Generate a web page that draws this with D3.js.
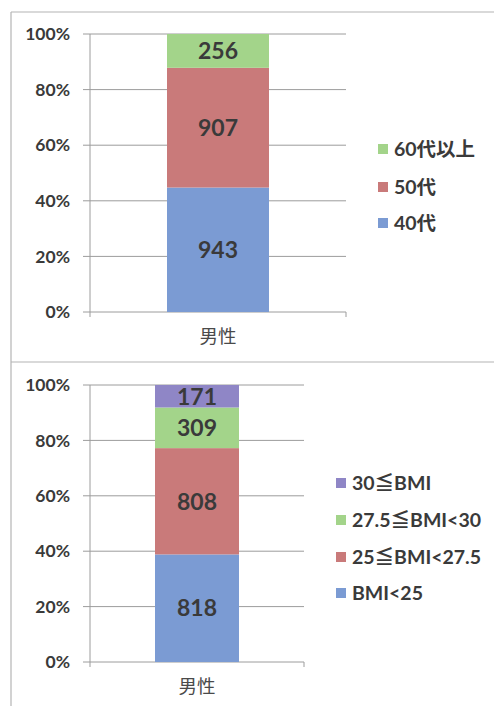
<!DOCTYPE html>
<html>
<head>
<meta charset="utf-8">
<script src="https://cdn.jsdelivr.net/npm/d3@7"></script>
<style>
  html, body { margin: 0; padding: 0; background: #fff; }
  svg { display: block; }
</style>
</head>
<body>
<svg id="chart" width="494" height="706"></svg>
<script>
// Men by age group and by BMI band, shown as 100% stacked bars
const categories = ["男性"];
const ageSeries = ["40代", "50代", "60代以上"];
const ageValues = [943, 907, 256];
const bmiSeries = ["BMI<25", "25≦BMI<27.5", "27.5≦BMI<30", "30≦BMI"];
const bmiValues = [818, 808, 309, 171];
const tickValues = [0, 0.2, 0.4, 0.6, 0.8, 1.0];
const tickLabels = ["0%", "20%", "40%", "60%", "80%", "100%"];
const ageColors = ["#7b9bd3", "#c97a7a", "#a3d48a"];
const bmiColors = ["#7b9bd3", "#c97a7a", "#a3d48a", "#8f86c6"];

const FONT = "Lato, 'Noto Sans CJK JP', sans-serif";
const TEXT = "#3a3a3a";
const GRID = "#9c9c9c";

const svg = d3.select("#chart");

// panel frames
const frame = svg.append("g").attr("stroke", "#b4b4b4").attr("stroke-width", 1.2).attr("fill", "none");
frame.append("line").attr("x1", 11).attr("x2", 494).attr("y1", 12).attr("y2", 12);
frame.append("line").attr("x1", 11).attr("x2", 11).attr("y1", 12).attr("y2", 706);
frame.append("line").attr("x1", 11).attr("x2", 494).attr("y1", 362).attr("y2", 362);

function drawPanel(opts) {
  const { series, values, colors, left, right, top, bottom, pad, legendX, legendRows } = opts;
  const g = svg.append("g");

  const row = { cat: categories[0] };
  series.forEach((s, i) => row[s] = values[i]);
  const stacked = d3.stack().keys(series).offset(d3.stackOffsetExpand)([row]);

  const x = d3.scaleBand().domain(categories).range([left, right]).paddingInner(0).paddingOuter(pad);
  const y = d3.scaleLinear().domain([0, 1]).range([bottom, top]);

  // horizontal gridlines with left tick stubs
  g.append("g").selectAll("line").data(tickValues).join("line")
    .attr("x1", left - 7).attr("x2", right)
    .attr("y1", d => y(d)).attr("y2", d => y(d))
    .attr("stroke", GRID).attr("stroke-width", 1);

  // value axis line
  g.append("line").attr("x1", left).attr("x2", left).attr("y1", top).attr("y2", bottom + 5)
    .attr("stroke", GRID).attr("stroke-width", 1);
  // category axis end tick
  g.append("line").attr("x1", right).attr("x2", right).attr("y1", bottom).attr("y2", bottom + 5)
    .attr("stroke", GRID).attr("stroke-width", 1);

  // tick labels
  g.append("g").selectAll("text").data(tickValues).join("text")
    .attr("x", left - 20).attr("y", d => y(d))
    .attr("dy", "0.35em").attr("text-anchor", "end")
    .attr("font-family", FONT).attr("font-weight", "bold").attr("font-size", 17.5)
    .attr("fill", TEXT)
    .text((d, i) => tickLabels[i]);

  // stacked segments
  const segs = g.append("g").selectAll("g").data(stacked).join("g")
    .attr("fill", (d, i) => colors[i]);
  segs.selectAll("rect").data(d => d.map(p => ({ p, key: d.key }))).join("rect")
    .attr("x", d => x(d.p.data.cat))
    .attr("width", x.bandwidth())
    .attr("y", d => y(d.p[1]))
    .attr("height", d => y(d.p[0]) - y(d.p[1]));

  // value labels
  g.append("g").selectAll("text").data(stacked).join("text")
    .attr("x", d => x(d[0].data.cat) + x.bandwidth() / 2)
    .attr("y", d => (y(d[0][0]) + y(d[0][1])) / 2)
    .attr("dy", "0.36em").attr("text-anchor", "middle")
    .attr("font-family", FONT).attr("font-weight", "bold").attr("font-size", 23)
    .attr("fill", TEXT)
    .text(d => d[0].data[d.key]);

  // category label
  g.append("text")
    .attr("x", x(categories[0]) + x.bandwidth() / 2).attr("y", bottom + 25)
    .attr("dy", "0.35em").attr("text-anchor", "middle")
    .attr("font-family", FONT).attr("font-size", 18.5).attr("fill", "#4a4a4a")
    .text(categories[0]);

  // legend, top entry is the last series
  const legendOrder = series.map((s, i) => i).reverse();
  const lg = g.append("g").selectAll("g").data(legendOrder).join("g")
    .attr("transform", (d, k) => `translate(${legendX},${legendRows[k]})`);
  lg.append("rect").attr("x", 0).attr("y", -5).attr("width", 10).attr("height", 10)
    .attr("fill", d => colors[d]);
  lg.append("text").attr("x", 16).attr("y", 0).attr("dy", "0.36em")
    .attr("font-family", FONT).attr("font-weight", "bold").attr("font-size", 19.5)
    .attr("fill", TEXT)
    .text(d => series[d]);
}

drawPanel({
  series: ageSeries, values: ageValues, colors: ageColors,
  left: 90, right: 346, top: 34, bottom: 312, pad: 0.755,
  legendX: 378, legendRows: [149, 187, 223]
});

drawPanel({
  series: bmiSeries, values: bmiValues, colors: bmiColors,
  left: 90, right: 304, top: 385, bottom: 662, pad: 0.774,
  legendX: 336, legendRows: [483, 520, 557, 593]
});
</script>
</body>
</html>
